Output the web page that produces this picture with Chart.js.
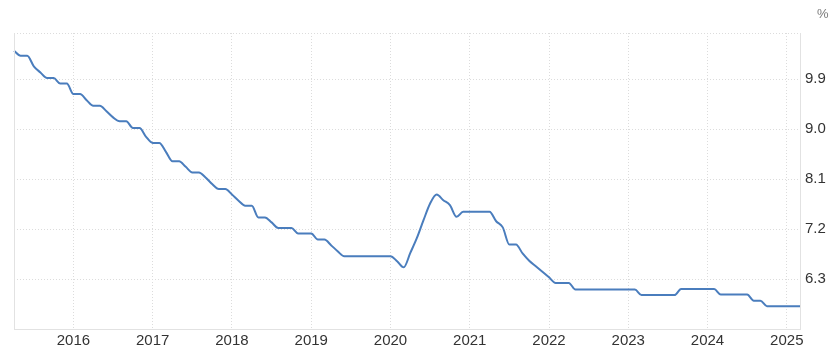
<!DOCTYPE html>
<html>
<head>
<meta charset="utf-8">
<script src="https://cdn.jsdelivr.net/npm/chart.js@4/dist/chart.umd.min.js"></script>
<style>
  html, body { margin: 0; padding: 0; background: #fff; }
  #wrap { width: 840px; height: 352px; position: relative; }
</style>
</head>
<body>
<div id="wrap"><canvas id="myChart"></canvas></div>
<script>
// monthly readings, Apr 2015 .. Mar 2025
var rate = [
  10.41, 10.32, 10.32, 10.13, 10.02, 9.92, 9.92, 9.82, 9.82,            // 2015 Apr-Dec
  9.63, 9.63, 9.52, 9.42, 9.42, 9.32, 9.21, 9.14, 9.14, 9.02, 9.02, 8.86, // 2016
  8.75, 8.75, 8.59, 8.42, 8.42, 8.32, 8.22, 8.22, 8.13, 8.01, 7.92, 7.92, // 2017
  7.82, 7.71, 7.62, 7.62, 7.41, 7.41, 7.32, 7.22, 7.22, 7.22, 7.12, 7.12, // 2018
  7.12, 7.01, 7.01, 6.91, 6.80, 6.71, 6.71, 6.71, 6.71, 6.71, 6.71, 6.71, // 2019
  6.71, 6.62, 6.51, 6.77, 7.04, 7.36, 7.66, 7.82, 7.72, 7.63, 7.42, 7.51, // 2020
  7.51, 7.51, 7.51, 7.51, 7.34, 7.23, 6.92, 6.92, 6.76, 6.63, 6.53, 6.43, // 2021
  6.33, 6.23, 6.23, 6.23, 6.11, 6.11, 6.11, 6.11, 6.11, 6.11, 6.11, 6.11, // 2022
  6.11, 6.11, 6.01, 6.01, 6.01, 6.01, 6.01, 6.01, 6.12, 6.12, 6.12, 6.12, // 2023
  6.12, 6.12, 6.02, 6.02, 6.02, 6.02, 6.02, 5.91, 5.91, 5.81, 5.81, 5.81, // 2024
  5.81, 5.81, 5.81                                                      // 2025 Jan-Mar
];
var yTicks = [6.3, 7.2, 8.1, 9.0, 9.9];
var yMin = 5.4, yMax = 10.73;

// month labels YYYY-MM
var months = [];
for (var i = 0; i < rate.length; i++) {
  var m = 3 + i;
  var yr = 2015 + Math.floor(m / 12);
  months.push(yr + '-' + String(m % 12 + 1).padStart(2, '0'));
}

var gridCol = '#dcdcdc';
var frameCol = '#e2e2e2';

var extras = {
  id: 'extras',
  afterDraw: function(chart) {
    var c = chart.ctx, a = chart.chartArea;
    c.save();
    // left frame line
    c.strokeStyle = frameCol;
    c.lineWidth = 1;
    c.beginPath();
    c.moveTo(a.left + 0.5, a.top);
    c.lineTo(a.left + 0.5, a.bottom);
    c.stroke();
    // unit label
    c.fillStyle = '#7a7a7a';
    c.font = '13px "Liberation Sans", Arial, sans-serif';
    c.textAlign = 'left';
    c.textBaseline = 'top';
    c.fillText('%', a.right + 17, 8);
    c.restore();
  }
};

var ctx = document.getElementById('myChart').getContext('2d');
var myChart = new Chart(ctx, {
  type: 'line',
  data: {
    labels: months,
    datasets: [{
      label: 'Rate',
      data: rate,
      borderColor: '#4a7dbd',
      borderWidth: 2,
      pointRadius: 0,
      fill: false,
      cubicInterpolationMode: 'monotone'
    }]
  },
  options: {
    responsive: true,
    maintainAspectRatio: false,
    animation: false,
    layout: { padding: { left: 14, top: 33, right: 0, bottom: 0 } },
    plugins: { legend: { display: false }, tooltip: { enabled: false } },
    scales: {
      x: {
        type: 'category',
        offset: false,
        grid: { color: gridCol, drawTicks: false },
        border: { display: true, color: frameCol, dash: [1, 2] },
        ticks: {
          autoSkip: false,
          maxRotation: 0,
          padding: 3,
          color: '#333',
          font: { family: '"Liberation Sans", Arial, sans-serif', size: 15 },
          callback: function(v, idx) {
            var lab = months[idx];
            if (lab && lab.slice(5) === '01') return lab.slice(0, 4);
            return null;
          }
        },
        afterFit: function(s) { s.height = 23; }
      },
      y: {
        position: 'right',
        min: yMin,
        max: yMax,
        grid: { color: gridCol, drawTicks: false },
        border: { display: true, color: frameCol, dash: [1, 2] },
        afterBuildTicks: function(s) {
          s.ticks = [yMin].concat(yTicks, [yMax]).map(function(v) { return { value: v }; });
        },
        ticks: {
          padding: 5,
          color: '#333',
          font: { family: '"Liberation Sans", Arial, sans-serif', size: 15 },
          callback: function(v) {
            return yTicks.indexOf(v) >= 0 ? v.toFixed(1) : '';
          }
        },
        afterFit: function(s) { s.width = 40; }
      }
    }
  },
  plugins: [extras]
});
</script>
</body>
</html>
